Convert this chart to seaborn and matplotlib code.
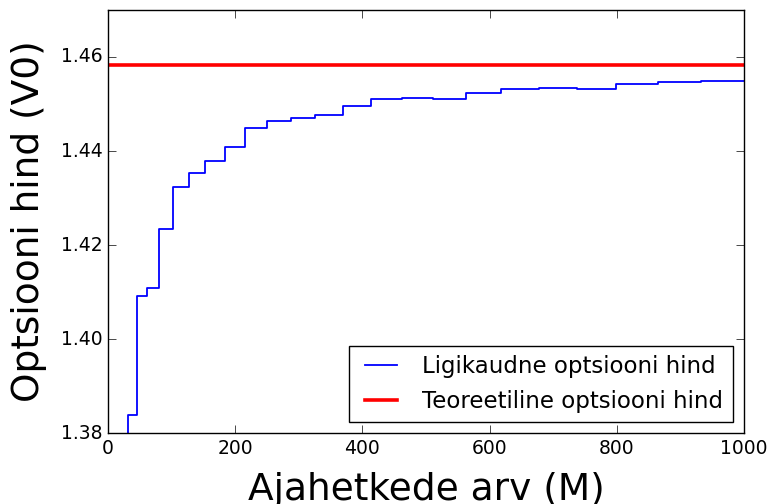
import matplotlib
matplotlib.use('Agg')
import matplotlib.pyplot as plt
import seaborn as sns
import pandas as pd

# Values
M_values = [20, 32, 45, 61, 80, 102, 128, 153, 184, 216, 250, 288, 326, 369, 413,
            462, 511, 563, 618, 677, 737, 799, 865, 933, 1000]
approx_price = [1.3500, 1.3839, 1.4092, 1.4109, 1.4234, 1.4323, 1.4354, 1.4379, 1.4408,
                1.4448, 1.4464, 1.4470, 1.4477, 1.4496, 1.4510, 1.4513, 1.4511, 1.4524,
                1.4532, 1.4535, 1.4532, 1.4542, 1.4547, 1.4549, 1.4549]
theoretical_price = 1.4583

x_ticks = [0, 200, 400, 600, 800, 1000]
y_ticks = [1.38, 1.40, 1.42, 1.44, 1.46]

df = pd.DataFrame({'M': M_values, 'V0': approx_price})

plt.style.use('classic')
plt.rcParams['font.family'] = ['DejaVu Sans']

fig = plt.figure(figsize=(7.69, 5.04), dpi=100, facecolor='white')
ax = fig.add_axes([0.1404, 0.1403, 0.8271, 0.8401])
ax.set_facecolor('white')

sns.lineplot(data=df, x='M', y='V0', ax=ax, color='blue', linewidth=1.3,
             drawstyle='steps-post', label='Ligikaudne optsiooni hind')
ax.axhline(theoretical_price, color='red', linewidth=2.6,
           label='Teoreetiline optsiooni hind')

ax.set_xlim(0, 1000)
ax.set_ylim(1.38, 1.47)
ax.set_xticks(x_ticks)
ax.set_yticks(y_ticks)
ax.set_yticklabels([f'{v:.2f}' for v in y_ticks])
ax.tick_params(labelsize=13.5, direction='in', top=True, right=True, length=6)
ax.set_xlabel('Ajahetkede arv (M)', fontsize=27, labelpad=10)
ax.set_ylabel('Optsiooni hind (V0)', fontsize=27, labelpad=10)

ax.legend(loc='lower right', fontsize=16.5, frameon=True, fancybox=False,
          edgecolor='black', borderaxespad=0.5, handlelength=2.0)

fig.savefig('out.png', dpi=100, facecolor='white')
